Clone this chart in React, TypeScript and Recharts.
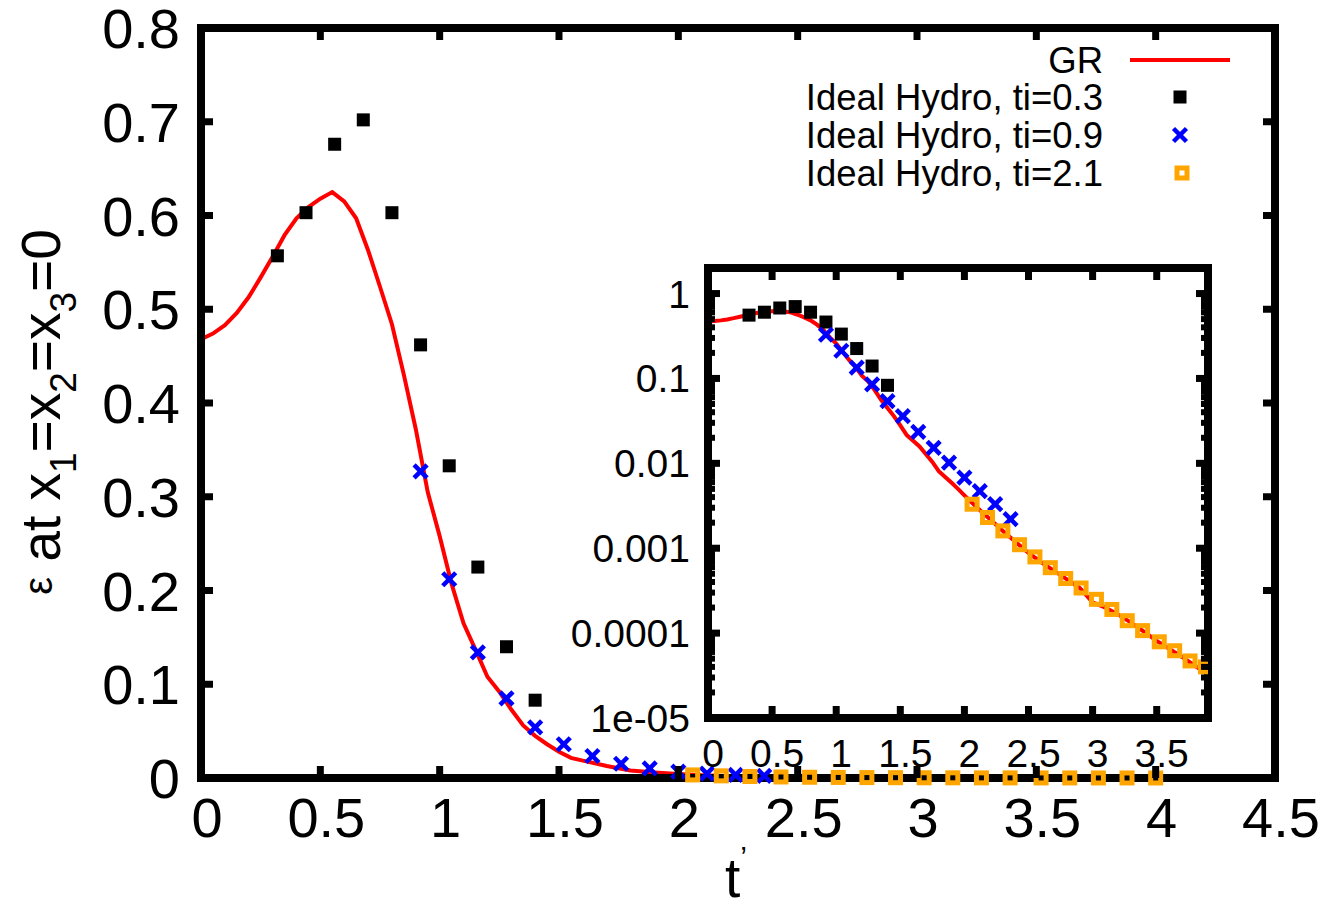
import React from 'react';
import { ComposedChart, Line, Scatter, XAxis, YAxis, Legend } from 'recharts';

// GR curve (t', energy density)
const grT = [0, 0.05, 0.1, 0.15, 0.2, 0.25, 0.3, 0.35, 0.4, 0.45, 0.5, 0.55, 0.6, 0.65, 0.7, 0.75, 0.8, 0.85, 0.9, 0.95,
  1.0, 1.05, 1.1, 1.15, 1.2, 1.25, 1.3, 1.35, 1.4, 1.45, 1.5, 1.55, 1.6, 1.65, 1.7, 1.75, 1.8, 1.85, 1.9, 1.95,
  2.0, 2.1, 2.2, 2.3, 2.4, 2.5, 2.6, 2.7, 2.8, 2.9, 3.0, 3.1, 3.2, 3.3, 3.4, 3.5, 3.6, 3.7, 3.8, 3.9, 4.0];
const grE = [0.468, 0.474, 0.483, 0.496, 0.513, 0.534, 0.556, 0.579, 0.597, 0.609, 0.618, 0.625, 0.615, 0.597, 0.563, 0.524, 0.484, 0.43, 0.372, 0.305,
  0.258, 0.207, 0.165, 0.137, 0.108, 0.092, 0.073, 0.056, 0.045, 0.036, 0.028, 0.0215, 0.0185, 0.0158, 0.0128, 0.0104, 0.0081, 0.0069, 0.0059, 0.005,
  0.0042, 0.003, 0.0022, 0.0016, 0.00118, 0.00088, 0.00068, 0.00054, 0.00043, 0.00034, 0.00023, 0.0002, 0.000165, 0.000133, 0.000104, 0.000081, 0.000065, 0.000052, 0.000041, 0.000033, 0.000027];

// Ideal hydro, ti=0.3
const blackT = [0.32, 0.44, 0.56, 0.68, 0.8, 0.92, 1.04, 1.16, 1.28, 1.4];
const blackE = [0.557, 0.603, 0.676, 0.702, 0.603, 0.462, 0.333, 0.225, 0.14, 0.083];

// Ideal hydro, ti=0.9
const blueT = [0.92, 1.04, 1.16, 1.28, 1.4, 1.52, 1.64, 1.76, 1.88, 2.0, 2.12, 2.24, 2.36];
const blueE = [0.327, 0.212, 0.134, 0.085, 0.054, 0.036, 0.0235, 0.0152, 0.0102, 0.0068, 0.0047, 0.0033, 0.0022];

// Ideal hydro, ti=2.1
const orangeT = [2.06, 2.18, 2.3, 2.43, 2.55, 2.67, 2.79, 2.91, 3.03, 3.15, 3.27, 3.39, 3.52, 3.64, 3.76, 3.88, 4.0];
const orangeE = [0.0033, 0.0023, 0.0016, 0.0011, 0.00079, 0.00059, 0.00044, 0.00034, 0.00025, 0.00019, 0.00014, 0.000107, 0.000079, 0.000062, 0.000047, 0.00004, 0.000032];

// ticks
const mainXTicks = [0, 0.5, 1, 1.5, 2, 2.5, 3, 3.5, 4, 4.5];
const mainYTicks = [0, 0.1, 0.2, 0.3, 0.4, 0.5, 0.6, 0.7, 0.8];
const insetXTicks = [0, 0.5, 1, 1.5, 2, 2.5, 3, 3.5];
const insetYTicks = [0.00001, 0.0001, 0.001, 0.01, 0.1, 1];
const insetYLabels = ['1e-05', '0.0001', '0.001', '0.01', '0.1', '1'];
const minorMult = [2, 3, 4, 5, 6, 7, 8, 9];
const minorDecades = [0.00001, 0.0001, 0.001, 0.01, 0.1, 1];
const insetMinorTicks = minorDecades.flatMap((d) => minorMult.map((m) => m * d)).filter((v) => v <= 2);

const legendLabels = ['GR', 'Ideal Hydro, ti=0.3', 'Ideal Hydro, ti=0.9', 'Ideal Hydro, ti=2.1'];

const toPoints = (ts: number[], es: number[]) => ts.map((t, i) => ({ t, e: es[i] }));
const grData = toPoints(grT, grE);
const blackData = toPoints(blackT, blackE);
const blueData = toPoints(blueT, blueE);
const orangeData = toPoints(orangeT, orangeE);

const FONT = '"Liberation Sans", Arial, Helvetica, sans-serif';
const RED = '#ff0000';
const BLUE = '#0000ff';
const ORANGE = '#ffa500';

// plot sizes (px)
const MAIN_W = 1074;
const MAIN_H = 750;
const INSET_W = 500;
const INSET_H = 450;

const frameLine = { stroke: '#000', strokeWidth: 8, strokeLinecap: 'square' as const };

// markers
const BlackSquare = ({ cx, cy }: any) => (
  <rect x={cx - 6.5} y={cy - 6.5} width={13} height={13} fill="#000" />
);
const BlueCross = ({ cx, cy }: any) => (
  <g stroke={BLUE} strokeWidth={4.5}>
    <line x1={cx - 6.5} y1={cy - 6.5} x2={cx + 6.5} y2={cy + 6.5} />
    <line x1={cx - 6.5} y1={cy + 6.5} x2={cx + 6.5} y2={cy - 6.5} />
  </g>
);
const OrangeSquare = ({ cx, cy }: any) => (
  <rect x={cx - 5} y={cy - 5} width={10} height={10} fill="none" stroke={ORANGE} strokeWidth={5} />
);

// main chart ticks (inward, mirrored on the opposite side)
const MainXTick = ({ x, y, payload }: any) => (
  <g>
    <line x1={x} y1={y} x2={x} y2={y - 12} stroke="#000" strokeWidth={7} />
    <line x1={x} y1={y - MAIN_H} x2={x} y2={y - MAIN_H + 12} stroke="#000" strokeWidth={7} />
    <text x={x + 6} y={y + 59} textAnchor="middle" fontSize={56} fontFamily={FONT} fill="#000">{payload.value}</text>
  </g>
);
const MainYTick = ({ x, y, payload }: any) => (
  <g>
    <line x1={x} y1={y} x2={x + 12} y2={y} stroke="#000" strokeWidth={7} />
    <line x1={x + MAIN_W} y1={y} x2={x + MAIN_W - 12} y2={y} stroke="#000" strokeWidth={7} />
    <text x={x - 21} y={y + 20} textAnchor="end" fontSize={56} fontFamily={FONT} fill="#000">{payload.value}</text>
  </g>
);

const InsetXTick = ({ x, y, payload }: any) => (
  <g>
    <line x1={x} y1={y} x2={x} y2={y - 12} stroke="#000" strokeWidth={7} />
    <line x1={x} y1={y - INSET_H} x2={x} y2={y - INSET_H + 12} stroke="#000" strokeWidth={7} />
    <text x={x + 5} y={y + 49} textAnchor="middle" fontSize={39} fontFamily={FONT} fill="#000">{payload.value}</text>
  </g>
);
const InsetYTick = ({ x, y, payload, index }: any) => (
  <g>
    <line x1={x} y1={y} x2={x + 12} y2={y} stroke="#000" strokeWidth={7} />
    <line x1={x + INSET_W} y1={y} x2={x + INSET_W - 12} y2={y} stroke="#000" strokeWidth={7} />
    <text x={x - 18} y={y + 14} textAnchor="end" fontSize={39} fontFamily={FONT} fill="#000">
      {insetYLabels[insetYTicks.indexOf(payload.value)] ?? insetYLabels[index]}
    </text>
  </g>
);
const InsetMinorTick = ({ x, y }: any) => (
  <g>
    <line x1={x} y1={y} x2={x + 7} y2={y} stroke="#000" strokeWidth={6} />
    <line x1={x + INSET_W} y1={y} x2={x + INSET_W - 7} y2={y} stroke="#000" strokeWidth={6} />
  </g>
);

const MainYLabel = () => (
  <text transform="rotate(-90 60 412)" x={60} y={412} textAnchor="middle" fontSize={55} fontFamily={FONT} fill="#000">
    <tspan fontSize={40} dy={-8}>ε</tspan>
    <tspan dy={8}>{' at x'}</tspan>
    <tspan fontSize={37} dy={16}>1</tspan>
    <tspan dy={-16}>=x</tspan>
    <tspan fontSize={37} dy={16}>2</tspan>
    <tspan dy={-16}>=x</tspan>
    <tspan fontSize={37} dy={16}>3</tspan>
    <tspan dy={-16}>=0</tspan>
  </text>
);
const MainXLabel = () => (
  <text x={736} y={897} textAnchor="middle" fontSize={55} fontFamily={FONT} fill="#000">
    t<tspan fontSize={30} dy={-30}>’</tspan>
  </text>
);

const LegendBox = () => (
  <svg width={1325} height={200} style={{ display: 'block' }}>
    <g fontFamily={FONT} fontSize={36.5} fill="#000" textAnchor="end">
      <text x={1103} y={73}>{legendLabels[0]}</text>
      <text x={1103} y={110}>{legendLabels[1]}</text>
      <text x={1103} y={148}>{legendLabels[2]}</text>
      <text x={1103} y={186}>{legendLabels[3]}</text>
    </g>
    <line x1={1130} y1={60} x2={1230} y2={60} stroke={RED} strokeWidth={4} />
    <BlackSquare cx={1180} cy={97} />
    <BlueCross cx={1180} cy={135} />
    <OrangeSquare cx={1182} cy={173} />
  </svg>
);

const MainChart = () => (
  <ComposedChart width={1325} height={903} margin={{ top: 27, right: 49, bottom: 25, left: 101 }}>
    <XAxis xAxisId="x" dataKey="t" type="number" domain={[0, 4.5]} ticks={mainXTicks} interval={0}
      height={100} tickSize={0} tickMargin={0} tickLine={false} axisLine={frameLine}
      tick={(p: any) => <MainXTick {...p} />} label={<MainXLabel />} />
    <XAxis xAxisId="top" orientation="top" type="number" domain={[0, 4.5]} allowDataOverflow ticks={mainXTicks}
      height={1} tick={false} tickLine={false} axisLine={frameLine} />
    <YAxis yAxisId="y" dataKey="e" type="number" domain={[0, 0.8]} ticks={mainYTicks} interval={0}
      width={100} tickSize={0} tickMargin={0} tickLine={false} axisLine={frameLine}
      tick={(p: any) => <MainYTick {...p} />} label={<MainYLabel />} />
    <YAxis yAxisId="right" orientation="right" type="number" domain={[0, 0.8]} allowDataOverflow ticks={mainYTicks}
      width={1} tick={false} tickLine={false} axisLine={frameLine} />
    <Line xAxisId="x" yAxisId="y" data={grData} dataKey="e" type="linear" stroke={RED} strokeWidth={4}
      dot={false} activeDot={false} isAnimationActive={false} />
    <Scatter xAxisId="x" yAxisId="y" data={blackData} dataKey="e" shape={BlackSquare} isAnimationActive={false} />
    <Scatter xAxisId="x" yAxisId="y" data={blueData} dataKey="e" shape={BlueCross} isAnimationActive={false} />
    <Scatter xAxisId="x" yAxisId="y" data={orangeData} dataKey="e" shape={OrangeSquare} isAnimationActive={false} />
    <Legend layout="vertical" align="center" verticalAlign="middle"
      wrapperStyle={{ left: 0, top: 0, width: 1325, height: 200 }} content={() => <LegendBox />} />
  </ComposedChart>
);

const InsetChart = () => (
  <ComposedChart width={1325} height={903} margin={{ top: 267, right: 116, bottom: 125, left: 608 }}>
    <XAxis xAxisId="x" dataKey="t" type="number" domain={[0, 3.9]} allowDataOverflow ticks={insetXTicks} interval={0}
      height={60} tickSize={0} tickMargin={0} tickLine={false} axisLine={frameLine}
      tick={(p: any) => <InsetXTick {...p} />} />
    <XAxis xAxisId="top" orientation="top" type="number" domain={[0, 3.9]} allowDataOverflow ticks={insetXTicks}
      height={1} tick={false} tickLine={false} axisLine={frameLine} />
    <YAxis yAxisId="y" dataKey="e" type="number" scale="log" domain={[0.00001, 2]} allowDataOverflow ticks={insetYTicks}
      interval={0} width={100} tickSize={0} tickMargin={0} tickLine={false} axisLine={frameLine}
      tick={(p: any) => <InsetYTick {...p} />} />
    <YAxis yAxisId="minor" mirror type="number" scale="log" domain={[0.00001, 2]} allowDataOverflow ticks={insetMinorTicks}
      interval={0} width={1} tickSize={0} tickMargin={0} tickLine={false} axisLine={false}
      tick={(p: any) => <InsetMinorTick {...p} />} />
    <YAxis yAxisId="right" orientation="right" type="number" scale="log" domain={[0.00001, 2]} allowDataOverflow
      ticks={insetYTicks} width={1} tick={false} tickLine={false} axisLine={frameLine} />
    <Line xAxisId="x" yAxisId="y" data={grData} dataKey="e" type="linear" stroke={RED} strokeWidth={4}
      dot={false} activeDot={false} isAnimationActive={false} />
    <Scatter xAxisId="x" yAxisId="y" data={blackData} dataKey="e" shape={BlackSquare} isAnimationActive={false} />
    <Scatter xAxisId="x" yAxisId="y" data={blueData} dataKey="e" shape={BlueCross} isAnimationActive={false} />
    <Scatter xAxisId="x" yAxisId="y" data={orangeData} dataKey="e" shape={OrangeSquare} isAnimationActive={false} />
  </ComposedChart>
);

export default function App() {
  return (
    <div style={{ position: 'absolute', left: 0, top: 0, width: 1325, height: 903, background: '#fff' }}>
      <div style={{ position: 'absolute', left: 0, top: 0 }}>
        <MainChart />
      </div>
      <div style={{ position: 'absolute', left: 0, top: 0 }}>
        <InsetChart />
      </div>
    </div>
  );
}
